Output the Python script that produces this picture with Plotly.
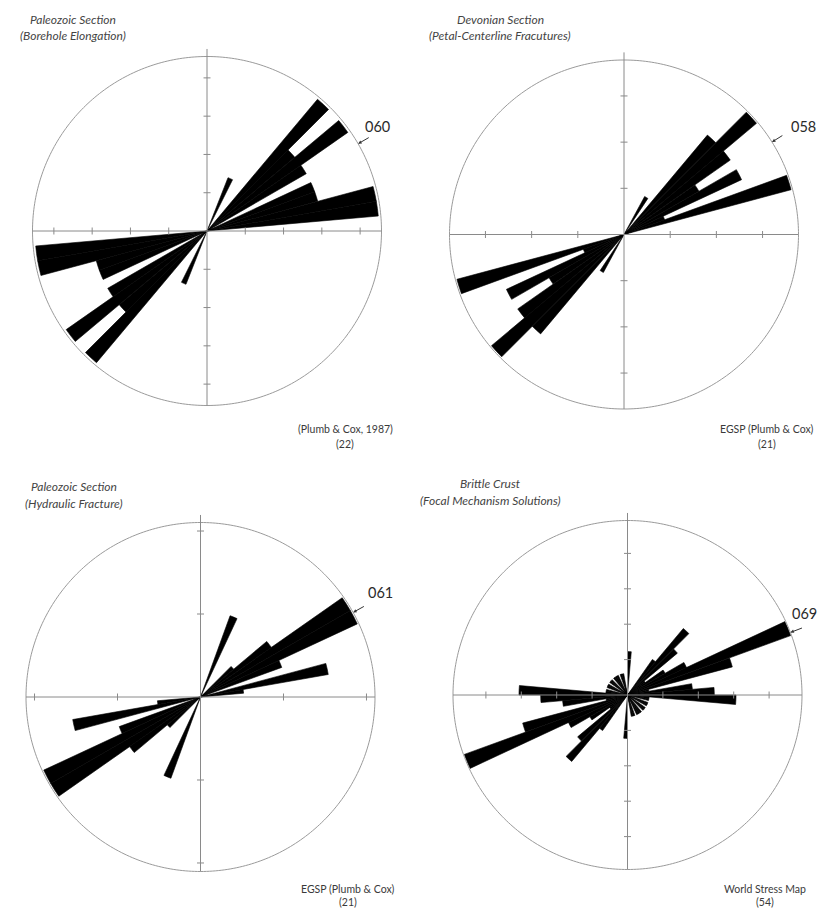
import math
import plotly.graph_objects as go

# The page body keeps its default 8 px margin, so every page position below is shifted by
# OFF; the figure is sized so that the page does not overflow the window.
PAGE_W, PAGE_H = 826, 916
OFF = 8
W, H = PAGE_W - 2 * OFF, PAGE_H - 2 * OFF
RPX = 174.5   # radius of the drawn circle, px
PAD = 8.0     # the north axis overshoots the circle by this many px

# ---------------- data (bin-centre azimuth in degrees from north, counts) ----------------
# axial data: every orientation is plotted at theta and theta+180
p1_theta = [24, 42.5, 47.5, 52.5, 57.5, 67.5, 72.5, 77.5, 82.5]
p1_count = [1, 3, 2, 3, 2, 2, 2, 3, 3]

p2_theta = [31, 42.5, 47.5, 52.5, 57.5, 62.5, 67.5, 72.5]
p2_count = [1, 3, 4, 3, 2, 3, 1, 4]

p3_theta = [22.5, 47.5, 52.5, 57.5, 62.5, 67.5, 77.5, 82.5]
p3_count = [2, 1, 2, 4, 4, 2, 3, 1]

p4_theta = [2.5, 37.5, 42.5, 47.5, 52.5, 57.5, 62.5, 67.5, 72.5, 77.5, 82.5, 87.5,
            92.5, 97.5, 102.5, 112.5, 117.5, 127.5, 132.5, 142.5, 147.5, 152.5, 162.5, 167.5]
p4_count = [2, 2, 4, 3, 1, 2, 3, 8, 5, 1, 3, 4,
            5, 1, 1, 1, 1, 1, 1, 1, 1, 1, 1, 1]

titles = [("Paleozoic Section", "(Borehole Elongation)"),
          ("Devonian Section", "(Petal-Centerline Fracutures)"),
          ("Paleozoic Section", "(Hydraulic Fracture)"),
          ("Brittle Crust", "(Focal Mechanism Solutions)")]
sources = [("(Plumb & Cox, 1987)", "(22)"),
           ("EGSP (Plumb & Cox)", "(21)"),
           ("EGSP (Plumb & Cox)", "(21)"),
           ("World Stress Map", "(54)")]
mean_labels = ["060", "058", "061", "069"]
mean_azimuths = [60, 58, 61, 69]

# circle radius (in counts) and tick spacing (in counts) for each rose
circle_r = [3.045, 4.035, 4.035, 8.04]
tick_step = [0.668, 1.068, 1.919, 1.631]

# ---------------- layout geometry (page px) ----------------
centers = [(207, 231), (624, 234.5), (200.5, 697), (627.5, 695)]
title_pos = [(73, 19, 36), (500, 19, 36), (74, 486, 503), (490, 483, 500.5)]
source_pos = [(345, 429, 444), (767, 429, 444), (348, 889, 902), (765, 889, 902)]
label_pos = [(377, 126), (803, 126), (380, 592), (804, 613)]

datasets = [(p1_theta, p1_count), (p2_theta, p2_count), (p3_theta, p3_count), (p4_theta, p4_count)]

AX = "#8a8a8a"
CIRC = "#9a9a9a"
FONT = "Lato"


def px(x, y):
    return (x - OFF) / W, 1 - (y - OFF) / H


fig = go.Figure()
annotations = []
half = RPX + PAD

for i, ((theta, count), (cx, cy)) in enumerate(zip(datasets, centers)):
    sp = "polar" if i == 0 else f"polar{i + 1}"
    R = circle_r[i]
    Rmax = R * half / RPX

    # outer circle
    th = list(range(0, 361))
    fig.add_trace(go.Scatterpolar(r=[R] * len(th), theta=th, mode="lines",
                                  line=dict(color=CIRC, width=1), subplot=sp,
                                  hoverinfo="skip", showlegend=False))
    # E-W axis
    fig.add_trace(go.Scatterpolar(r=[R, 0, R], theta=[270, 0, 90], mode="lines",
                                  line=dict(color=AX, width=1), subplot=sp,
                                  hoverinfo="skip", showlegend=False))
    # N-S axis
    fig.add_trace(go.Scatterpolar(r=[Rmax * 0.998, 0, R], theta=[0, 0, 180], mode="lines",
                                  line=dict(color=AX, width=1), subplot=sp,
                                  hoverinfo="skip", showlegend=False))
    ticks = []
    k = 1
    while k * tick_step[i] < R * 0.995:
        ticks.append(k * tick_step[i])
        k += 1
    fig.add_trace(go.Scatterpolar(r=ticks + ticks, theta=[90] * len(ticks) + [270] * len(ticks),
                                  mode="markers", subplot=sp, hoverinfo="skip", showlegend=False,
                                  marker=dict(symbol="line-ns", size=5, color=AX,
                                              line=dict(width=1, color=AX))))
    fig.add_trace(go.Scatterpolar(r=ticks + ticks, theta=[0] * len(ticks) + [180] * len(ticks),
                                  mode="markers", subplot=sp, hoverinfo="skip", showlegend=False,
                                  marker=dict(symbol="line-ew", size=5, color=AX,
                                              line=dict(width=1, color=AX))))
    # rose petals (axial: theta and theta+180)
    th_all = list(theta) + [t + 180 for t in theta]
    r_all = list(count) + list(count)
    fig.add_trace(go.Barpolar(r=r_all, theta=th_all, width=[5] * len(th_all),
                              marker=dict(color="black", line=dict(width=0.6, color="black")),
                              subplot=sp, hoverinfo="skip", showlegend=False))

    dom_x = [(cx - OFF - half) / W, (cx - OFF + half) / W]
    dom_y = [1 - (cy - OFF + half) / H, 1 - (cy - OFF - half) / H]
    fig.update_layout(**{sp: dict(
        domain=dict(x=dom_x, y=dom_y),
        bgcolor="rgba(0,0,0,0)",
        radialaxis=dict(range=[0, Rmax], visible=False, showgrid=False, showline=False,
                        showticklabels=False, ticks=""),
        angularaxis=dict(rotation=90, direction="clockwise", visible=False, showgrid=False,
                         showline=False, showticklabels=False, ticks=""),
        bargap=0,
    )})

    # titles
    tx, ty1, ty2 = title_pos[i]
    for txt, ty in zip(titles[i], (ty1, ty2)):
        x, y = px(tx, ty)
        annotations.append(dict(x=x, y=y, xref="paper", yref="paper", text=f"<i>{txt}</i>",
                                showarrow=False, xanchor="center", yanchor="middle",
                                font=dict(family=FONT, size=12, color="#444444")))
    # source
    sx, sy1, sy2 = source_pos[i]
    for txt, sy in zip(sources[i], (sy1, sy2)):
        x, y = px(sx, sy)
        annotations.append(dict(x=x, y=y, xref="paper", yref="paper", text=txt,
                                showarrow=False, xanchor="center", yanchor="middle",
                                font=dict(family=FONT, size=10.5, color="#3a3a3a")))
    # mean direction label and arrow
    a = math.radians(mean_azimuths[i])
    tipx = cx + RPX * math.sin(a)
    tipy = cy - RPX * math.cos(a)
    x, y = px(tipx, tipy)
    annotations.append(dict(x=x, y=y, xref="paper", yref="paper", text="", showarrow=True,
                            ax=14 * math.sin(a), ay=-14 * math.cos(a), arrowhead=2,
                            arrowsize=0.7, arrowwidth=1, arrowcolor="#333333"))
    lx, ly = label_pos[i]
    x, y = px(lx, ly)
    annotations.append(dict(x=x, y=y, xref="paper", yref="paper", text=mean_labels[i],
                            showarrow=False, xanchor="center", yanchor="middle",
                            font=dict(family=FONT, size=14.5, color="#2a2a2a")))

fig.update_layout(width=W, height=H, margin=dict(l=0, r=0, t=0, b=0),
                  paper_bgcolor="white", plot_bgcolor="white",
                  annotations=annotations, showlegend=False, hovermode=False)

fig.write_html("out.html")
